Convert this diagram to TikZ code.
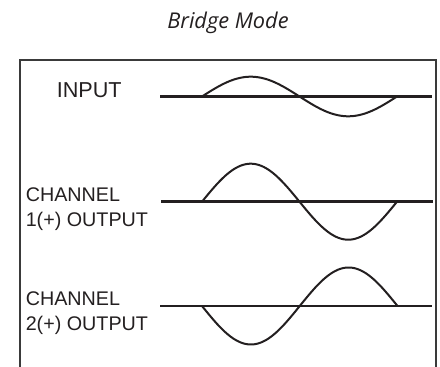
\documentclass[tikz,border=0pt]{standalone}
\usepackage{fontspec}
\setmainfont{Liberation Sans}
\newfontfamily\titlefont{Open Sans}
\definecolor{ink}{HTML}{231F20}
\definecolor{frame}{HTML}{3A3A3A}
\begin{document}
\begin{tikzpicture}[x=0.75pt,y=-0.75pt,
  frameline/.style={draw=frame,line width=1.9pt},
  axisline/.style={draw=ink,line width=2.1pt},
  wave/.style={draw=ink,line width=1.5pt,line join=round},
  lbl/.style={anchor=base west,inner sep=0pt,text=ink,font=\fontsize{14.8}{18.75}\selectfont},
]
\useasboundingbox (0,0) rectangle (440,367);
% title
\node[anchor=base,inner sep=0pt,text=ink,font=\titlefont\itshape\fontsize{16.3}{19}\selectfont] (title) at (228,28.3) {Bridge Mode};
% frame (open at the bottom, runs past the edge)
\draw[frameline] (20,375) -- (20,60) -- (436,60) -- (436,375);
% labels
\node[lbl,font=\fontsize{16.2}{19}\selectfont] (input) at (56.5,97.3) {INPUT};
\node[lbl] (ch1) at (25.5,201.5) {\begin{tabular}[t]{@{}l@{}}CHANNEL\\1(+) OUTPUT\end{tabular}};
\node[lbl] (ch2) at (25.5,305.5) {\begin{tabular}[t]{@{}l@{}}CHANNEL\\2(+) OUTPUT\end{tabular}};
% axes
\coordinate (a1) at (160,96.5);  \coordinate (b1) at (432,96.5);
\coordinate (a2) at (161,201.7); \coordinate (b2) at (433,201.7);
\coordinate (a3) at (160,306);   \coordinate (b3) at (432,306);
\draw[axisline] (a1) -- (b1);
\draw[axisline] (a2) -- (b2);
\draw[axisline] (a3) -- (b3);
% waves
\draw[wave] plot[domain=0:360,samples=120,smooth] ({202+\x/360*195},{96.5-19.8*sin(\x)});
\draw[wave] plot[domain=0:360,samples=120,smooth] ({202+\x/360*195},{201.7-38*sin(\x)});
\draw[wave] plot[domain=0:360,samples=120,smooth] ({202+\x/360*195.5},{306+38.5*sin(\x)});
\end{tikzpicture}
\end{document}
